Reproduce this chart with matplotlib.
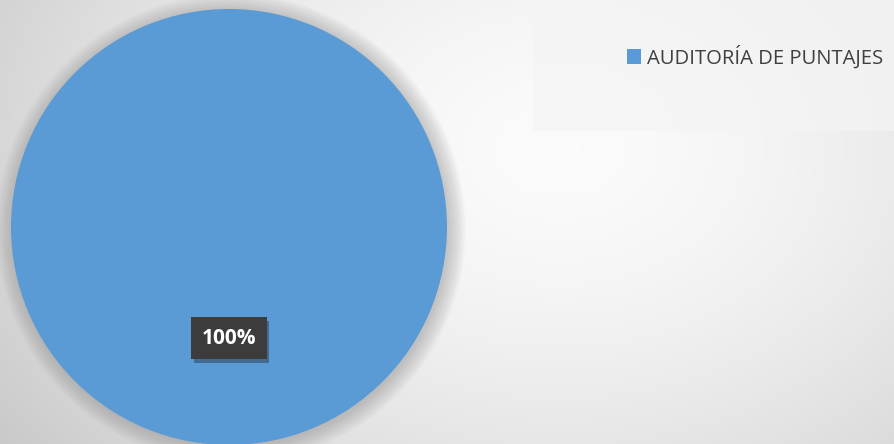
import matplotlib.pyplot as plt
import numpy as np
import matplotlib.patheffects as pe

# data
labels = ['AUDITORÍA DE PUNTAJES']
values = [100]
colors = ['#5b9bd5']

W, H = 894, 444
fig = plt.figure(figsize=(W / 100, H / 100), dpi=100)

# background: soft radial gradient
bg = fig.add_axes([0, 0, 1, 1])
yy, xx = np.mgrid[0:H, 0:W]
d = np.sqrt(((xx - 560) / 650.0) ** 2 + ((yy - 150) / 480.0) ** 2)
shade = np.clip(0.985 - 0.18 * d ** 1.6, 0.79, 0.985)
bg.imshow(np.dstack([shade] * 3), extent=[0, W, H, 0], aspect='auto')
# legend panel
bg.add_patch(plt.Rectangle((533, 0), W - 533, 131, color='#f4f4f4', alpha=0.75, lw=0))
# pie shadow
for k in range(14):
    bg.add_patch(plt.Circle((231, 229), 218 + k * 1.3, color='#808080',
                            alpha=0.03, lw=0))
bg.set_xlim(0, W)
bg.set_ylim(H, 0)
bg.axis('off')

# pie
cx, cy, r = 229, 227, 218
ax = fig.add_axes([(cx - r) / W, (H - cy - r) / H, 2 * r / W, 2 * r / H])
wedges, texts, autotexts = ax.pie(values, colors=colors, startangle=90,
                                  autopct='%1.0f%%', pctdistance=0.51,
                                  radius=1.0)
ax.set_xlim(-1, 1)
ax.set_ylim(-1, 1)
ax.set_aspect('equal')
for t in autotexts:
    t.set_color('white')
    t.set_fontweight('bold')
    t.set_fontsize(15)
    t.set_fontfamily('Open Sans')
    t.set_bbox(dict(boxstyle='square,pad=0.5', facecolor='#3c3c3c',
                    edgecolor='none',
                    path_effects=[pe.SimplePatchShadow(offset=(2, -3), alpha=0.35),
                                  pe.Normal()]))

# legend
leg = fig.legend(wedges, labels, loc='center', bbox_to_anchor=(755 / W, 1 - 57 / H),
                 frameon=False, handlelength=0.7, handleheight=0.7,
                 handletextpad=0.3, prop={'family': 'Open Sans', 'size': 14.6})
for t in leg.get_texts():
    t.set_color('#404040')

fig.savefig('out.png', dpi=100)
